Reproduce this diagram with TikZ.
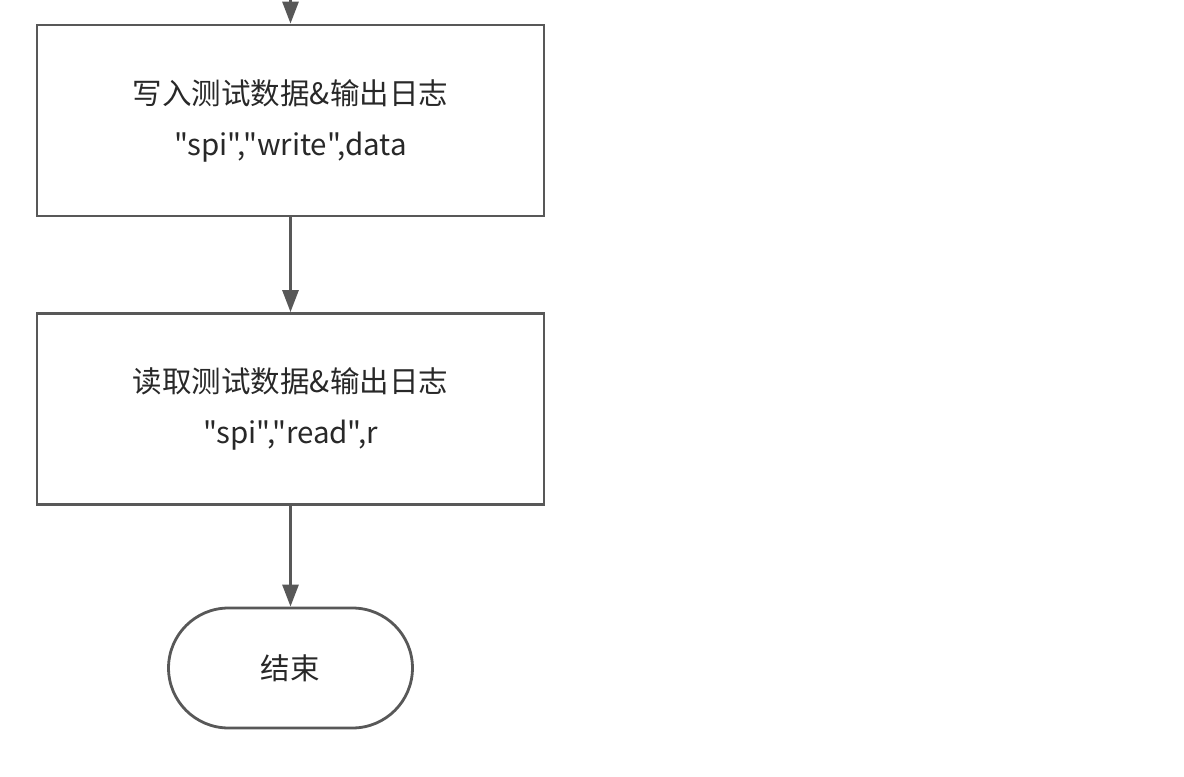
\documentclass[tikz,border=0pt]{standalone}
\usepackage{fontspec}
\newfontfamily\cjk{Noto Sans CJK SC}
\usepackage{xcolor}
\usetikzlibrary{arrows.meta,positioning}
\definecolor{ln}{RGB}{88,88,88}
\definecolor{tx}{RGB}{40,40,40}

\begin{document}
\begin{tikzpicture}[x=0.02cm,y=-0.02cm,font=\cjk\fontsize{16.8}{20}\selectfont,>={Triangle[length=4.4mm,width=3.2mm]},
  box/.style={draw=ln,line width=1.6pt,minimum width=10.14cm,minimum height=3.82cm,align=center,text=tx},
  term/.style={draw=ln,line width=1.6pt,minimum width=4.88cm,minimum height=2.4cm,rounded corners=1.2cm,text=tx},
  flow/.style={->,draw=ln,line width=1.6pt}]
 \useasboundingbox (0,0) rectangle (1184,777);
 % boxes
 \coordinate (top) at (290.5,0);
 \node[box] (write) at (290.5,120.5){写入测试数据\&输出日志\\[9pt]"spi","write",data};
 \node[box] (read) at (290.5,409){读取测试数据\&输出日志\\[9pt]"spi","read",r};
 \node[term] (end) at (290.5,668){结束};
 % arrows
 \draw[flow](top)--(write);
 \draw[flow](write)--(read);
 \draw[flow](read)--(end);
\end{tikzpicture}
\end{document}
